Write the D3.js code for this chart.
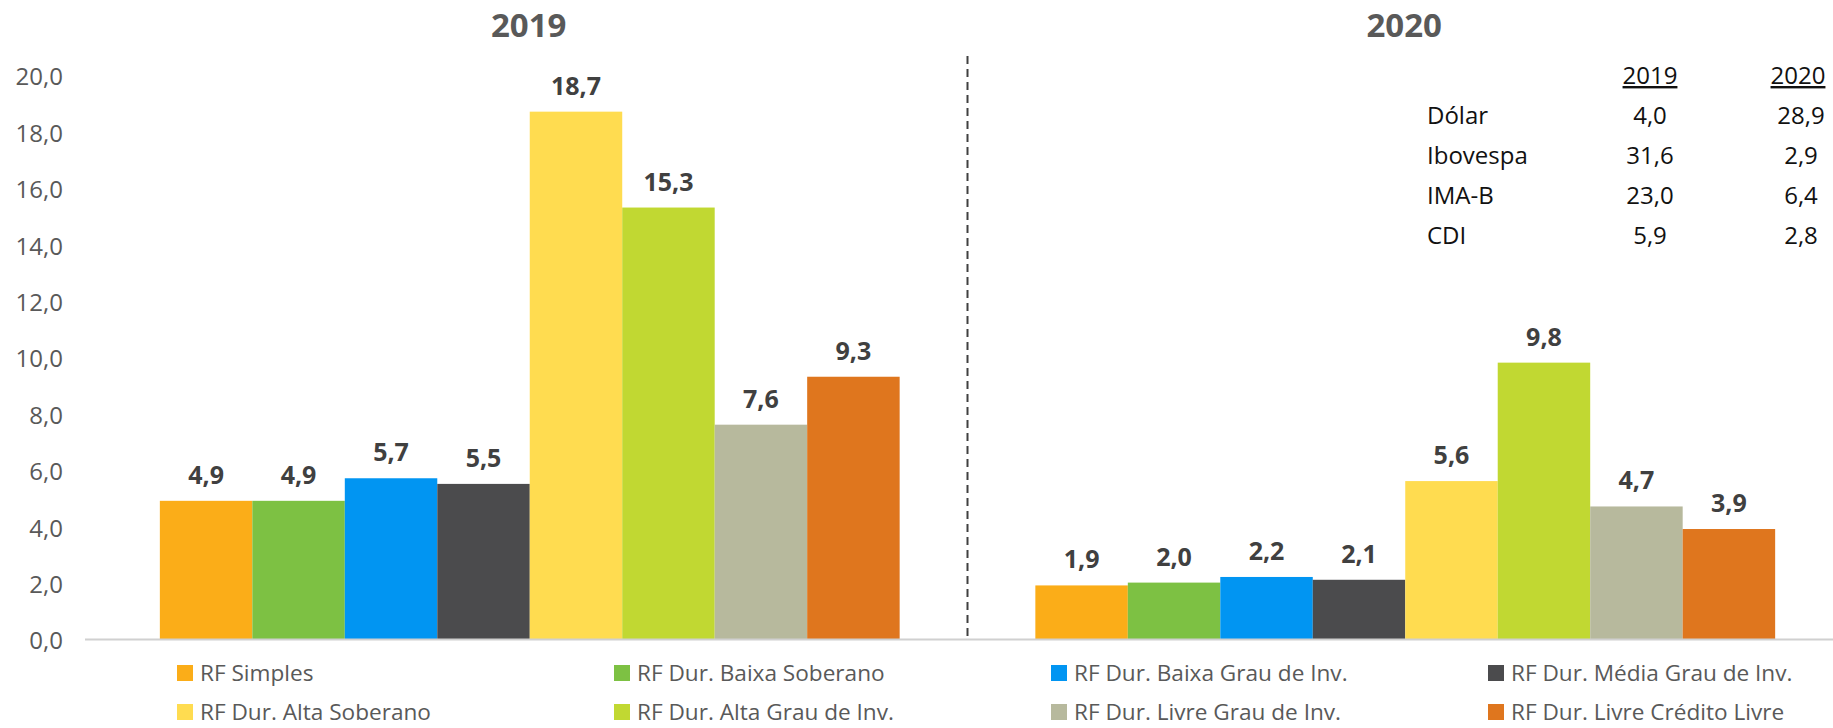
<!DOCTYPE html>
<html><head><meta charset="utf-8">
<script src="https://cdn.jsdelivr.net/npm/d3@7"></script>
<style>body{margin:0;background:#fff}svg{display:block}</style>
</head><body>
<svg id="c" width="1833" height="728"></svg>
<script>
const years = ["2019", "2020"];
const categories = ["RF Simples", "RF Dur. Baixa Soberano", "RF Dur. Baixa Grau de Inv.", "RF Dur. Média Grau de Inv.",
  "RF Dur. Alta Soberano", "RF Dur. Alta Grau de Inv.", "RF Dur. Livre Grau de Inv.", "RF Dur. Livre Crédito Livre"];
const values2019 = [4.9, 4.9, 5.7, 5.5, 18.7, 15.3, 7.6, 9.3];
const values2020 = [1.9, 2.0, 2.2, 2.1, 5.6, 9.8, 4.7, 3.9];
const colors = ["#fbad18", "#7dc143", "#0195f2", "#4b4b4d", "#ffdc50", "#c1d832", "#b7b99d", "#df761e"];
const yTicks = [0, 2, 4, 6, 8, 10, 12, 14, 16, 18, 20];
const tableRows = ["Dólar", "Ibovespa", "IMA-B", "CDI"];
const table2019 = [4.0, 31.6, 23.0, 5.9];
const table2020 = [28.9, 2.9, 6.4, 2.8];

const loc = d3.formatLocale({decimal: ",", thousands: ".", grouping: [3], currency: ["R$", ""]});
const f1 = loc.format(".1f");

const svg = d3.select("#c");
const font = "'Open Sans', sans-serif";

const y = d3.scaleLinear().domain([0, 20]).range([639, 75]);
const x0 = d3.scaleBand().domain(years).range([92, 1843]).paddingInner(0.155).paddingOuter(0.0775);
const x1 = d3.scaleBand().domain(categories).range([0, x0.bandwidth()]);

const data = {"2019": values2019, "2020": values2020};

// y tick labels
svg.append("g").selectAll("text").data(yTicks).join("text")
  .attr("x", 63).attr("y", d => y(d) + 2).attr("dy", "0.35em")
  .attr("text-anchor", "end").attr("font-family", font).attr("font-size", 24)
  .attr("fill", "#595959").text(d => f1(d));

// bars
const g = svg.append("g").selectAll("g").data(years).join("g")
  .attr("transform", d => `translate(${x0(d)},0)`);
g.selectAll("rect").data(yr => data[yr].map((v, i) => ({v, c: categories[i], i}))).join("rect")
  .attr("x", d => x1(d.c)).attr("width", x1.bandwidth())
  .attr("y", d => y(d.v)).attr("height", d => y(0) - y(d.v))
  .attr("fill", d => colors[d.i]);
g.selectAll("text.v").data(yr => data[yr].map((v, i) => ({v, c: categories[i], i}))).join("text")
  .attr("class", "v")
  .attr("x", d => x1(d.c) + x1.bandwidth() / 2).attr("y", d => y(d.v) - 17)
  .attr("text-anchor", "middle").attr("font-family", font).attr("font-weight", "bold")
  .attr("font-size", 25).attr("fill", "#404040").text(d => f1(d.v));

// titles
svg.append("g").selectAll("text").data(years).join("text")
  .attr("x", d => x0(d) + x0.bandwidth() / 2 - 1).attr("y", 37)
  .attr("text-anchor", "middle").attr("font-family", font).attr("font-weight", "bold")
  .attr("font-size", 33).attr("fill", "#595959").text(d => d);

// baseline
svg.append("line").attr("x1", 85).attr("x2", 1833).attr("y1", y(0) + 0.5).attr("y2", y(0) + 0.5)
  .attr("stroke", "#d0d0d0").attr("stroke-width", 2);

// dashed separator
const sepX = (x0("2019") + x0.bandwidth() + x0("2020")) / 2;
svg.append("line").attr("x1", sepX).attr("x2", sepX).attr("y1", 56).attr("y2", y(0) - 2)
  .attr("stroke", "#404040").attr("stroke-width", 2).attr("stroke-dasharray", "8,5");

// legend
const legX = [177, 614, 1051, 1488];
const legY = [673, 712];
const leg = svg.append("g").selectAll("g").data(categories).join("g")
  .attr("transform", (d, i) => `translate(${legX[i % 4]},${legY[Math.floor(i / 4)]})`);
leg.append("rect").attr("x", 0).attr("y", -8).attr("width", 16).attr("height", 16)
  .attr("fill", (d, i) => colors[i]);
leg.append("text").attr("x", 23).attr("y", 0).attr("dy", "0.35em")
  .attr("font-family", font).attr("font-size", 22.6).attr("fill", "#595959").text(d => d);

// table
const tbl = svg.append("g").attr("font-family", font).attr("font-size", 24).attr("fill", "#111");
const colX = [1650, 1798];
tbl.selectAll("text.h").data(years).join("text").attr("class", "h")
  .attr("x", (d, i) => colX[i]).attr("y", 84).attr("text-anchor", "middle")
  .style("text-decoration", "underline").text(d => d);
tbl.selectAll("text.r").data(tableRows).join("text").attr("class", "r")
  .attr("x", 1427).attr("y", (d, i) => 124 + i * 40).text(d => d);
tbl.selectAll("text.a").data(table2019).join("text").attr("class", "a")
  .attr("x", colX[0]).attr("y", (d, i) => 124 + i * 40).attr("text-anchor", "middle").text(d => f1(d));
tbl.selectAll("text.b").data(table2020).join("text").attr("class", "b")
  .attr("x", colX[1] + 3).attr("y", (d, i) => 124 + i * 40).attr("text-anchor", "middle").text(d => f1(d));
</script>
</body></html>
